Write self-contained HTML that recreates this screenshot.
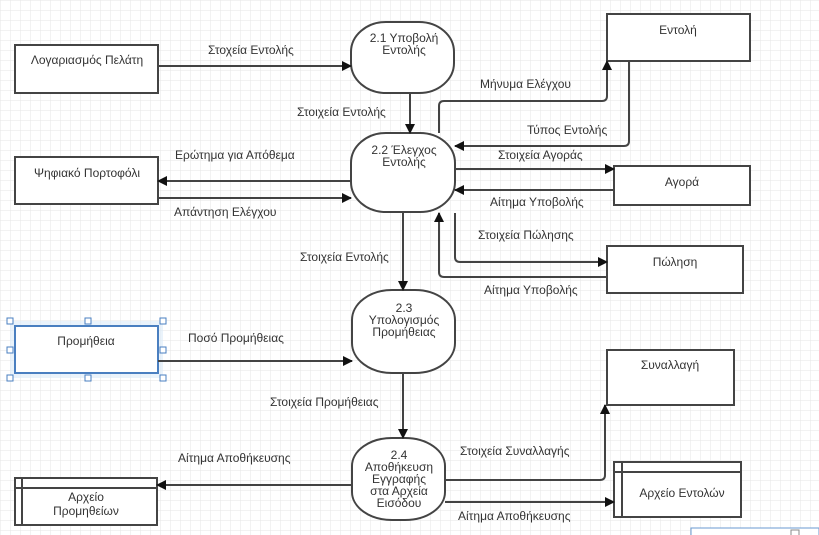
<!DOCTYPE html>
<html><head><meta charset="utf-8"><style>
html,body{margin:0;padding:0;background:#fff;}
svg{display:block;}
text{font-family:"Liberation Sans","DejaVu Sans",sans-serif;font-size:12px;fill:#333;}
</style></head><body>
<svg width="819" height="535" viewBox="0 0 819 535" xmlns="http://www.w3.org/2000/svg">
<defs>
<pattern id="g" width="10" height="10" patternUnits="userSpaceOnUse">
<path d="M10 0H0V10" fill="none" stroke="#e6e6e6" stroke-width="1"/>
</pattern>
<marker id="a" markerWidth="10" markerHeight="10" refX="9" refY="5" orient="auto" markerUnits="userSpaceOnUse">
<path d="M0,0 L10,5 L0,10 z" fill="#111"/>
</marker>
</defs>
<rect width="819" height="535" fill="url(#g)"/>
<g fill="#fff" stroke="#444" stroke-width="2">
<rect x="15" y="45" width="143" height="48"/>
<rect x="15" y="157" width="143" height="47"/>
<rect x="607" y="14" width="143" height="47"/>
<rect x="614" y="166" width="136" height="39"/>
<rect x="607" y="246" width="136" height="47"/>
<rect x="607" y="350" width="127" height="55"/>
<rect x="15" y="478" width="142" height="47"/>
<rect x="614" y="462" width="127" height="55"/>
<rect x="351" y="22" width="103" height="71" rx="35" ry="30"/>
<rect x="351" y="133" width="104" height="79" rx="35" ry="30"/>
<rect x="352" y="290" width="103" height="83" rx="40" ry="30"/>
<rect x="352" y="438" width="93" height="82" rx="40" ry="28"/>
</g>
<g stroke="#444" stroke-width="2" fill="none">
<path d="M15 488H157M22 478V525"/>
<path d="M614 472H741M622 462V517"/>
</g>
<!-- selection -->
<rect x="10" y="321" width="153" height="57" fill="#dcebf8" opacity="0.6"/>
<rect x="15" y="326" width="143" height="47" fill="#fff" stroke="#4a7fc0" stroke-width="2"/>
<g fill="#fff" stroke="#4a7fc0" stroke-width="1">
<rect x="7" y="318" width="6" height="6"/><rect x="85" y="318" width="6" height="6"/><rect x="160" y="318" width="6" height="6"/>
<rect x="7" y="347" width="6" height="6"/><rect x="160" y="347" width="6" height="6"/>
<rect x="7" y="375" width="6" height="6"/><rect x="85" y="375" width="6" height="6"/><rect x="160" y="375" width="6" height="6"/>
</g>
<g stroke="#444" stroke-width="2" fill="none" marker-end="url(#a)">
<path d="M158 66H351"/>
<path d="M410 93V133"/>
<path d="M351 181H158"/>
<path d="M158 198H351"/>
<path d="M439 133V106Q439 101 444 101H602Q607 101 607 96V61"/>
<path d="M629 61V141Q629 146 624 146H455"/>
<path d="M455 169H614"/>
<path d="M614 190H455"/>
<path d="M455 213V257Q455 262 460 262H607"/>
<path d="M607 277H444Q439 277 439 272V213"/>
<path d="M403 212V290"/>
<path d="M158 361H352"/>
<path d="M403 373V438"/>
<path d="M352 485H157"/>
<path d="M445 480H600Q605 480 605 475V405"/>
<path d="M445 502H614"/>
</g>
<g text-anchor="middle">
<text x="87" y="64">Λογαριασμός Πελάτη</text>
<text x="87" y="177">Ψηφιακό Πορτοφόλι</text>
<text x="678" y="34">Εντολή</text>
<text x="682" y="186">Αγορά</text>
<text x="675" y="266">Πώληση</text>
<text x="670" y="369">Συναλλαγή</text>
<text x="86" y="345">Προμήθεια</text>
<text x="86" y="501">Αρχείο</text>
<text x="86" y="515">Προμηθείων</text>
<text x="682" y="497">Αρχείο Εντολών</text>
<text x="404" y="42">2.1 Υποβολή</text>
<text x="404" y="54">Εντολής</text>
<text x="404" y="154">2.2 Έλεγχος</text>
<text x="404" y="166">Εντολής</text>
<text x="404" y="312">2.3</text>
<text x="404" y="324">Υπολογισμός</text>
<text x="404" y="336">Προμήθειας</text>
<text x="399" y="459">2.4</text>
<text x="399" y="471">Αποθήκευση</text>
<text x="399" y="483">Εγγραφής</text>
<text x="399" y="495">στα Αρχεία</text>
<text x="399" y="507">Εισόδου</text>
</g>
<g>
<text x="208" y="54">Στοχεία Εντολής</text>
<text x="297" y="116">Στοιχεία Εντολής</text>
<text x="175" y="159">Ερώτημα για Απόθεμα</text>
<text x="174" y="216">Απάντηση Ελέγχου</text>
<text x="480" y="88">Μήνυμα Ελέγχου</text>
<text x="527" y="134">Τύπος Εντολής</text>
<text x="498" y="159">Στοιχεία Αγοράς</text>
<text x="490" y="206">Αίτημα Υποβολής</text>
<text x="478" y="239">Στοιχεία Πώλησης</text>
<text x="484" y="294">Αίτημα Υποβολής</text>
<text x="300" y="261">Στοιχεία Εντολής</text>
<text x="188" y="342">Ποσό Προμήθειας</text>
<text x="270" y="406">Στοιχεία Προμήθειας</text>
<text x="178" y="462">Αίτημα Αποθήκευσης</text>
<text x="460" y="455">Στοιχεία Συναλλαγής</text>
<text x="458" y="520">Αίτημα Αποθήκευσης</text>
</g>
<rect x="691" y="528" width="128" height="10" fill="#fff" stroke="#6a9ad0" stroke-width="1"/>
<rect x="791" y="530" width="8" height="6" fill="#fff" stroke="#888" stroke-width="1"/>
</svg>
</body></html>
